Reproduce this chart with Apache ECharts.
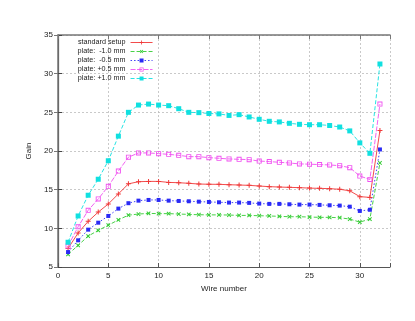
<!DOCTYPE html>
<html>
<head>
<meta charset="utf-8">
<script src="https://cdn.jsdelivr.net/npm/echarts@6/dist/echarts.min.js"></script>
<style>
  html, body { margin: 0; padding: 0; background: #fff; }
  #chart { width: 415px; height: 321px; }
</style>
</head>
<body>
<div id="chart"></div>
<script>
// wire numbers 1..32
const wires = [1, 2, 3, 4, 5, 6, 7, 8, 9, 10, 11, 12, 13, 14, 15, 16,
  17, 18, 19, 20, 21, 22, 23, 24, 25, 26, 27, 28, 29, 30, 31, 32];

const seriesNames = ["standard setup", "plate:  -1.0 mm", "plate:  -0.5 mm", "plate: +0.5 mm", "plate: +1.0 mm"];

const standardGain = [7.4, 9.4, 10.9, 12.1, 13.15, 14.45, 15.75, 16.03, 16.07, 16.07, 15.94, 15.9,
  15.82, 15.73, 15.7, 15.69, 15.64, 15.6, 15.56, 15.47, 15.39, 15.34, 15.3, 15.26,
  15.2, 15.17, 15.13, 15.05, 14.85, 14.1, 14.0, 22.65];
const minus10Gain = [6.63, 7.8, 9.0, 9.74, 10.4, 11.1, 11.7, 11.85, 11.93, 11.9, 11.9, 11.85,
  11.8, 11.76, 11.74, 11.74, 11.72, 11.67, 11.67, 11.63, 11.6, 11.55, 11.5, 11.5,
  11.46, 11.42, 11.42, 11.37, 11.2, 10.8, 11.2, 18.45];
const minus05Gain = [6.93, 8.45, 9.83, 10.73, 11.6, 12.55, 13.25, 13.58, 13.67, 13.67, 13.58, 13.54,
  13.5, 13.45, 13.41, 13.37, 13.33, 13.33, 13.29, 13.2, 13.16, 13.16, 13.11, 13.07,
  13.07, 13.03, 12.98, 12.94, 12.8, 12.25, 12.4, 20.2];
const plus05Gain = [7.7, 10.2, 12.33, 13.8, 15.44, 17.4, 19.2, 19.75, 19.75, 19.66, 19.57, 19.44,
  19.27, 19.27, 19.14, 19.06, 18.97, 18.93, 18.88, 18.7, 18.63, 18.54, 18.45, 18.33,
  18.3, 18.24, 18.2, 18.1, 17.85, 16.76, 16.32, 26.07];
const plus10Gain = [8.2, 11.6, 14.28, 16.35, 18.74, 21.92, 25.0, 25.94, 26.07, 25.94, 25.86, 25.47,
  25.0, 24.96, 24.85, 24.8, 24.6, 24.7, 24.4, 24.1, 23.84, 23.76, 23.58, 23.45,
  23.4, 23.4, 23.3, 23.1, 22.6, 21.05, 19.7, 31.25];

const xTicks = [0, 5, 10, 15, 20, 25, 30];

// gnuplot-like point types
const plusPath = "path://M-1,-0.2H1V0.2H-1Z M-0.2,-1H0.2V1H-0.2Z";
const boxPath = "path://M-1,-1H1V1H-1Z M-0.65,-0.65V0.65H0.65V-0.65Z";

function pairs(vals) {
  return wires.map((w, i) => [w, vals[i]]);
}

function makeSeries(name, vals, color, lineType, symbol, symbolSize, extra) {
  return Object.assign({
    name: name,
    type: "line",
    data: pairs(vals),
    symbol: symbol,
    symbolSize: symbolSize,
    showAllSymbol: true,
    lineStyle: { color: color, width: 0.9, type: lineType },
    itemStyle: { color: color },
    emphasis: { disabled: true },
  }, extra || {});
}

const font = "Liberation Sans, Arial, sans-serif";
const chart = echarts.init(document.getElementById("chart"));
chart.setOption({
  animation: false,
  backgroundColor: "#fff",
  grid: { left: 58, right: 25, top: 35, bottom: 54, show: false },
  legend: {
    orient: "vertical",
    align: "right",
    right: 262,
    top: 39,
    itemWidth: 22,
    itemHeight: 5,
    itemGap: 2,
    padding: 0,
    lineStyle: { width: 0.9 },
    textStyle: { fontSize: 7.2, fontFamily: font, color: "#222", lineHeight: 7, padding: 0 },
    data: seriesNames,
  },
  xAxis: [
    {
      type: "value",
      min: 0,
      max: 33,
      interval: 5,
      name: "Wire number",
      nameLocation: "middle",
      nameGap: 15,
      nameTextStyle: { fontSize: 8, fontFamily: font, color: "#222" },
      axisLine: { lineStyle: { color: "#555", width: 1.2 } },
      axisTick: { inside: true, length: 4, lineStyle: { color: "#555" } },
      axisLabel: {
        fontSize: 8, fontFamily: font, color: "#222", margin: 5,
        formatter: (v) => (xTicks.indexOf(v) >= 0 ? String(v) : ""),
      },
      splitLine: { show: true, lineStyle: { color: "#bbb", type: [2, 2], width: 0.8 } },
    },
    {
      type: "value",
      position: "top",
      min: 0,
      max: 33,
      interval: 5,
      axisLine: { lineStyle: { color: "#777", width: 1.5 } },
      axisTick: { inside: true, length: 4, lineStyle: { color: "#777" } },
      axisLabel: { show: false },
      splitLine: { show: false },
    },
  ],
  yAxis: [
    {
      type: "value",
      min: 5,
      max: 35,
      interval: 5,
      name: "Gain",
      nameLocation: "middle",
      nameGap: 22,
      nameTextStyle: { fontSize: 8, fontFamily: font, color: "#222" },
      axisLine: { show: true, lineStyle: { color: "#444", width: 1.2 } },
      axisTick: { show: true, inside: true, length: 4, lineStyle: { color: "#444" } },
      axisLabel: { fontSize: 8, fontFamily: font, color: "#222", margin: 5 },
      splitLine: { show: true, lineStyle: { color: "#bbb", type: [2, 2], width: 0.8 } },
    },
    {
      type: "value",
      position: "right",
      min: 5,
      max: 35,
      interval: 5,
      axisLine: { show: true, lineStyle: { color: "#777", width: 1.5 } },
      axisTick: { show: true, inside: true, length: 4, lineStyle: { color: "#777" } },
      axisLabel: { show: false },
      splitLine: { show: false },
    },
  ],
  series: [
    makeSeries(seriesNames[0], standardGain, "#f03838", "solid", plusPath, 5),
    makeSeries(seriesNames[1], minus10Gain, "#33cc33", [4, 2], plusPath, 5, { symbolRotate: 45 }),
    makeSeries(seriesNames[2], minus05Gain, "#2a2af5", [1.5, 2], "rect", 4),
    makeSeries(seriesNames[3], plus05Gain, "#f050f0", [5, 1.5], boxPath, 5),
    makeSeries(seriesNames[4], plus10Gain, "#10e0e0", [4, 2], "rect", 5),
  ],
});
</script>
</body>
</html>
